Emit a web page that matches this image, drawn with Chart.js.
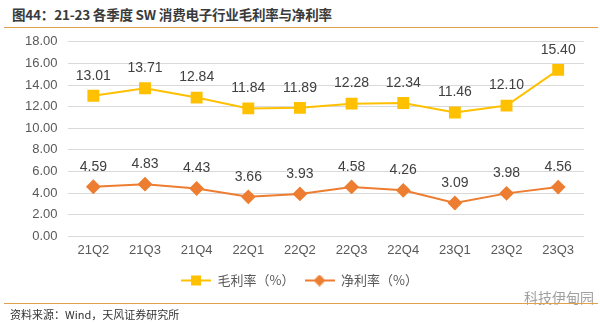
<!DOCTYPE html>
<html>
<head>
<meta charset="utf-8">
<script src="https://cdn.jsdelivr.net/npm/chart.js@4"></script>
<style>
  body { margin: 0; background: #fff; font-family: "Noto Sans CJK SC", "Noto Sans", sans-serif; }
  #wrap { position: relative; width: 600px; height: 324px; overflow: hidden; }
  #title { position: absolute; left: 12px; top: 4px; font-size: 13.5px; font-weight: bold; color: #3a3a3a; letter-spacing: -0.2px; white-space: nowrap; }
  .rule { position: absolute; left: 4px; width: 594px; height: 1px; background: #e1a04a; }
  #chartBox { position: absolute; left: 0; top: 24px; width: 600px; height: 280px; }
  #source { position: absolute; left: 10px; top: 306px; font-size: 11px; color: #333; white-space: nowrap; }
  #mark { position: absolute; left: 524px; top: 287px; font-size: 14px; color: #a0a0a0; white-space: nowrap; }
</style>
</head>
<body>
<div id="wrap">
  <div id="title">图44：21-23 各季度 SW 消费电子行业毛利率与净利率</div>
  <div class="rule" style="top:27px"></div>
  <div id="chartBox"><canvas id="myChart"></canvas></div>
  <div id="mark">科技伊甸园</div>
  <div class="rule" style="top:303px"></div>
  <div id="source">资料来源：Wind，天风证券研究所</div>
</div>
<script>
  // quarterly margins, %
  const quarters = ["21Q2", "21Q3", "21Q4", "22Q1", "22Q2", "22Q3", "22Q4", "23Q1", "23Q2", "23Q3"];
  const grossMargin = [13.01, 13.71, 12.84, 11.84, 11.89, 12.28, 12.34, 11.46, 12.10, 15.40];
  const netMargin = [4.59, 4.83, 4.43, 3.66, 3.93, 4.58, 4.26, 3.09, 3.98, 4.56];

  const YELLOW = "#FFC000";
  const ORANGE = "#ED7D31";

  // little line+marker swatch for the legend
  function swatch(color, style) {
    const c = document.createElement("canvas");
    c.width = 30; c.height = 12;
    const g = c.getContext("2d");
    g.strokeStyle = color; g.fillStyle = color; g.lineWidth = 2;
    g.beginPath(); g.moveTo(0, 6); g.lineTo(30, 6); g.stroke();
    if (style === "rect") {
      g.fillRect(10, 1, 10, 10);
    } else {
      g.beginPath(); g.moveTo(15, 0); g.lineTo(21, 6); g.lineTo(15, 12); g.lineTo(9, 6); g.closePath(); g.fill();
    }
    return c;
  }

  // value labels above each point
  const valueLabels = {
    id: "valueLabels",
    afterDatasetsDraw(chart) {
      const ctx = chart.ctx;
      ctx.save();
      ctx.font = "14px 'Liberation Sans', Arial, sans-serif";
      ctx.fillStyle = "#404040";
      ctx.textAlign = "center";
      ctx.textBaseline = "bottom";
      chart.data.datasets.forEach((ds, i) => {
        chart.getDatasetMeta(i).data.forEach((pt, j) => {
          ctx.fillText(ds.data[j].toFixed(2), pt.x, pt.y - 13);
        });
      });
      ctx.restore();
    }
  };

  const ctx = document.getElementById("myChart").getContext("2d");

  new Chart(ctx, {
    type: "line",
    data: {
      labels: quarters,
      datasets: [
        {
          label: "毛利率（%）",
          data: grossMargin,
          borderColor: YELLOW,
          backgroundColor: YELLOW,
          borderWidth: 2,
          pointStyle: "rect",
          pointRadius: 7,
          pointHoverRadius: 7,
          legendSwatch: swatch(YELLOW, "rect")
        },
        {
          label: "净利率（%）",
          data: netMargin,
          borderColor: ORANGE,
          backgroundColor: ORANGE,
          borderWidth: 2,
          pointStyle: "rectRot",
          pointRadius: 6,
          pointHoverRadius: 6,
          legendSwatch: swatch(ORANGE, "diamond")
        }
      ]
    },
    options: {
      responsive: true,
      maintainAspectRatio: false,
      animation: false,
      layout: { padding: { left: 15, right: 16, top: 0, bottom: 7 } },
      plugins: {
        legend: {
          position: "bottom",
          labels: {
            usePointStyle: true,
            pointStyleWidth: 30,
            color: "#595959",
            font: { size: 13, family: "'Noto Sans CJK SC', sans-serif" },
            padding: 10,
            generateLabels(chart) {
              return chart.data.datasets.map((ds, i) => ({
                text: ds.label,
                pointStyle: ds.legendSwatch,
                fontColor: "#595959",
                datasetIndex: i,
                hidden: false
              }));
            }
          }
        },
        tooltip: { enabled: false }
      },
      scales: {
        x: {
          offset: true,
          grid: { display: false, drawTicks: false },
          border: { display: false },
          ticks: { color: "#595959", font: { size: 13, family: "'Liberation Sans', Arial, sans-serif" }, padding: 6 }
        },
        y: {
          min: 0,
          max: 18,
          ticks: {
            stepSize: 2,
            color: "#595959",
            font: { size: 13, family: "'Liberation Sans', Arial, sans-serif" },
            padding: 10,
            callback: v => v.toFixed(2)
          },
          grid: { color: "#D9D9D9", drawTicks: false },
          border: { display: false }
        }
      }
    },
    plugins: [valueLabels]
  });
</script>
</body>
</html>
